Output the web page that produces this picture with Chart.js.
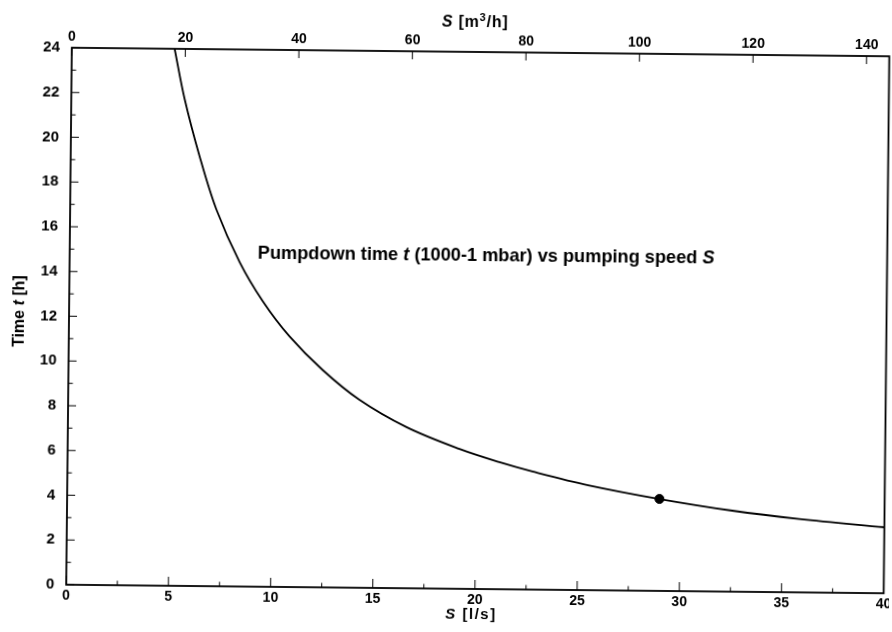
<!DOCTYPE html>
<html>
<head>
<meta charset="utf-8">
<script src="https://cdn.jsdelivr.net/npm/chart.js@4.4.1/dist/chart.umd.min.js"></script>
<style>
    html, body { margin: 0; padding: 0; background: #fff; overflow: hidden; }
    /* the scanned original sits slightly skewed on the page */
    #chart { display: block; transform: rotate(0.6deg); transform-origin: 478px 321px; }
</style>
</head>
<body>
<canvas id="chart" width="892" height="632"></canvas>
<script>
// --- Data ---
const speedLs = [5.03, 5.55, 6.31, 7.15, 8.32, 9.48, 10.8, 12.43, 14.25, 16.57, 19.17, 21.13, 22.75, 25.55, 28.98, 32.55, 35.83, 40];
const timeH   = [24.0, 21.74, 19.2, 16.85, 14.5, 12.75, 11.2, 9.72, 8.4, 7.2, 6.25, 5.68, 5.28, 4.68, 4.11, 3.62, 3.28, 2.95];
const markerSpeed = [28.98];
const markerTime = [4.11];

const bottomTicks = [0, 5, 10, 15, 20, 25, 30, 35, 40];
const topTicks = [0, 20, 40, 60, 80, 100, 120, 140];
const timeTicks = [0, 2, 4, 6, 8, 10, 12, 14, 16, 18, 20, 22, 24];

const annotation = ["Pumpdown time ", "t", " (1000-1 mbar) vs pumping speed ", "S"];

// --- Helpers ---
const FAMILY = '"Liberation Sans", Arial, sans-serif';
const yTickFont = { family: FAMILY, size: 15, weight: 'bold' };
const xTickFont = { family: FAMILY, size: 14, weight: 'bold' };

function fixedTicks(list) {
    return scale => { scale.ticks = list.map(v => ({ value: v })); };
}
function noPad(scale) {
    scale.paddingLeft = 0; scale.paddingRight = 0;
    scale.paddingTop = 0; scale.paddingBottom = 0;
}

function setFont(ctx, p, size) {
    const sz = p.small ? size * 0.68 : size;
    ctx.font = (p.italic ? 'italic ' : '') + 'bold ' + sz + 'px ' + FAMILY;
}
function partsWidth(ctx, parts, size) {
    return parts.reduce((w, p) => { setFont(ctx, p, size); return w + ctx.measureText(p.text).width; }, 0);
}
function drawParts(ctx, parts, x, y, size) {
    parts.forEach(p => {
        setFont(ctx, p, size);
        ctx.fillText(p.text, x, y + (p.dy || 0));
        x += ctx.measureText(p.text).width;
    });
}
function drawCentered(ctx, parts, cx, cy, size, spacing) {
    ctx.letterSpacing = spacing + 'px';
    drawParts(ctx, parts, cx - partsWidth(ctx, parts, size) / 2, cy, size);
    ctx.letterSpacing = '0px';
}

const framePlugin = {
    id: 'frame',
    afterDraw(chart) {
        const ctx = chart.ctx;
        const a = chart.chartArea;
        const x = chart.scales.x, x2 = chart.scales.x2, y = chart.scales.y;
        ctx.save();
        ctx.strokeStyle = '#000';
        ctx.fillStyle = '#000';

        // box
        ctx.lineWidth = 1.8;
        ctx.strokeRect(a.left, a.top, a.right - a.left, a.bottom - a.top);

        // inward ticks
        ctx.lineWidth = 1;
        ctx.beginPath();
        timeTicks.forEach((v, i) => {
            const py = y.getPixelForValue(v);
            ctx.moveTo(a.left, py); ctx.lineTo(a.left + 8, py);
            if (i < timeTicks.length - 1) {
                const my = y.getPixelForValue(v + 1);
                ctx.moveTo(a.left, my); ctx.lineTo(a.left + 4.5, my);
            }
        });
        bottomTicks.forEach((v, i) => {
            const px = x.getPixelForValue(v);
            ctx.moveTo(px, a.bottom); ctx.lineTo(px, a.bottom - 9);
            if (i < bottomTicks.length - 1) {
                const mx = x.getPixelForValue(v + 2.5);
                ctx.moveTo(mx, a.bottom); ctx.lineTo(mx, a.bottom - 4.5);
            }
        });
        topTicks.forEach(v => {
            const px = x2.getPixelForValue(v);
            ctx.moveTo(px, a.top); ctx.lineTo(px, a.top + 8);
        });
        ctx.stroke();

        // axis titles
        ctx.textBaseline = 'middle';
        drawCentered(ctx, [{ text: 'S', italic: true }, { text: ' [l/s]' }], 474, 615, 15, 1.5);
        drawCentered(ctx, [{ text: 'S', italic: true }, { text: ' [m' }, { text: '3', small: true, dy: -5 },
                           { text: '/h]' }], 472, 23, 16, 0.8);

        ctx.save();
        ctx.translate(20, 316);
        ctx.rotate(-Math.PI / 2);
        drawCentered(ctx, [{ text: 'Time ' }, { text: 't', italic: true }, { text: ' [h]' }], 0, 0, 16, 0);
        ctx.restore();

        // annotation inside the plot
        ctx.textBaseline = 'alphabetic';
        const ann = annotation.map((t, i) => ({ text: t, italic: i % 2 === 1 }));
        drawParts(ctx, ann, x.getPixelForValue(9.2), y.getPixelForValue(14.66), 18.2);

        ctx.restore();
    }
};

new Chart(document.getElementById('chart'), {
    type: 'line',
    data: {
        datasets: [
            {
                data: speedLs.map((s, i) => ({ x: s, y: timeH[i] })),
                borderColor: '#000',
                borderWidth: 1.8,
                pointRadius: 0,
                tension: 0.35,
                fill: false
            },
            {
                data: markerSpeed.map((s, i) => ({ x: s, y: markerTime[i] })),
                showLine: false,
                pointRadius: 4.5,
                pointBackgroundColor: '#000',
                pointBorderColor: '#000'
            }
        ]
    },
    options: {
        responsive: false,
        devicePixelRatio: 1,
        animation: false,
        layout: { padding: { left: 0, right: 5, top: 0, bottom: 0 } },
        plugins: { legend: { display: false }, tooltip: { enabled: false } },
        scales: {
            x: {
                type: 'linear', position: 'bottom', min: 0, max: 40,
                afterBuildTicks: fixedTicks(bottomTicks),
                afterFit: s => { s.height = 43; noPad(s); },
                grid: { display: false, drawTicks: false },
                border: { display: false },
                ticks: { color: '#000', font: xTickFont, padding: 3, maxRotation: 0 }
            },
            x2: {
                type: 'linear', position: 'top', min: 0, max: 144,
                afterBuildTicks: fixedTicks(topTicks),
                afterFit: s => { s.height = 52; noPad(s); },
                grid: { display: false, drawTicks: false },
                border: { display: false },
                ticks: { color: '#000', font: xTickFont, padding: 2, maxRotation: 0 }
            },
            y: {
                type: 'linear', min: 0, max: 24,
                afterBuildTicks: fixedTicks(timeTicks),
                afterFit: s => { s.width = 69; noPad(s); },
                grid: { display: false, drawTicks: false },
                border: { display: false },
                ticks: { color: '#000', font: yTickFont, padding: 12 }
            }
        }
    },
    plugins: [framePlugin]
});
</script>
</body>
</html>
